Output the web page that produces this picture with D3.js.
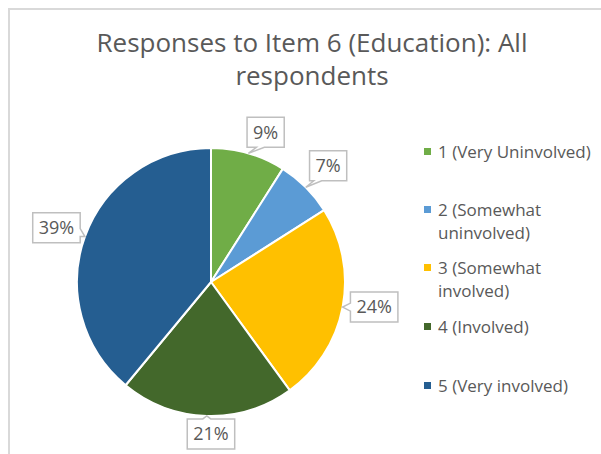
<!DOCTYPE html>
<html><head><meta charset="utf-8">
<script src="https://cdn.jsdelivr.net/npm/d3@7"></script>
<style>body{margin:0;background:#fff}svg{display:block}</style>
</head><body>
<svg id="c" width="601" height="454"></svg>
<script>
const categories = ["1 (Very Uninvolved)", "2 (Somewhat uninvolved)", "3 (Somewhat involved)", "4 (Involved)", "5 (Very involved)"];
const legendLines = [["1 (Very Uninvolved)"], ["2 (Somewhat", "uninvolved)"], ["3 (Somewhat", "involved)"], ["4 (Involved)"], ["5 (Very involved)"]];
const values = [9, 7, 24, 21, 39];
const colors = ["#70AD47", "#5B9BD5", "#FFC000", "#43682B", "#255E91"];
const titleLines = ["Responses to Item 6 (Education): All", "respondents"];

const svg = d3.select("#c");
const font = "'Open Sans', sans-serif";
const textColor = "#595959";

// chart border (cropped on right/bottom)
svg.append("path").attr("d", "M9,460 L9,9 L610,9").attr("fill", "none").attr("stroke", "#d9d9d9").attr("stroke-width", 2);

// title
svg.append("g").selectAll("text").data(titleLines).join("text")
  .attr("x", 312).attr("y", (d, i) => 52 + i * 33)
  .attr("text-anchor", "middle").attr("font-family", font).attr("font-size", 26)
  .attr("fill", textColor).text(d => d);

const cx = 211, cy = 282, R = 134;
const total = d3.sum(values);
const pie = d3.pie().sort(null).value(d => d)(values);
const arc = d3.arc().innerRadius(0).outerRadius(R);
const g = svg.append("g").attr("transform", `translate(${cx},${cy})`);
g.selectAll("path").data(pie).join("path")
  .attr("d", arc).attr("fill", (d, i) => colors[i])
  .attr("stroke", "#fff").attr("stroke-width", 2).attr("stroke-linejoin", "round");

// data labels with callouts
const labelR = 160;
const labelNudge = [[10, 4], [4, -3], [6, -5], [5, -8], [-4, 0]];
const pct = d3.format(".0%");
pie.forEach((d, i) => {
  const a = (d.startAngle + d.endAngle) / 2;
  const tip = [R * Math.sin(a), -R * Math.cos(a)];
  const c = [labelR * Math.sin(a) + labelNudge[i][0], -labelR * Math.cos(a) + labelNudge[i][1]];
  const txt = pct(values[i] / total);
  const t = g.append("text").attr("x", c[0]).attr("y", c[1] + 6.5)
    .attr("text-anchor", "middle").attr("font-family", font).attr("font-size", 18)
    .attr("fill", textColor).text(txt);
  const w = t.node().getComputedTextLength() + 12, h = 30;
  const x0 = c[0] - w / 2, x1 = c[0] + w / 2, y0 = c[1] - h / 2, y1 = c[1] + h / 2;
  let side;
  if (tip[1] > y1) side = "bottom"; else if (tip[1] < y0) side = "top";
  else if (tip[0] < x0) side = "left"; else side = "right";
  const nw = 8;
  let p = [];
  if (side === "top") {
    const bx = Math.max(x0 + 4, Math.min(x1 - 4 - nw, tip[0] - nw / 2));
    p = [[x0, y0], [bx, y0], tip, [bx + nw, y0], [x1, y0], [x1, y1], [x0, y1]];
  } else if (side === "bottom") {
    const bx = Math.max(x0 + 4, Math.min(x1 - 4 - nw, tip[0] + nw));
    p = [[x0, y0], [x1, y0], [x1, y1], [bx + nw, y1], tip, [bx, y1], [x0, y1]];
  } else if (side === "left") {
    const by = Math.max(y0 + 4, Math.min(y1 - 4 - nw, tip[1] - nw / 2));
    p = [[x0, y0], [x1, y0], [x1, y1], [x0, y1], [x0, by + nw], tip, [x0, by]];
  } else {
    const by = Math.max(y0 + 4, Math.min(y1 - 4 - nw, tip[1] - nw));
    p = [[x0, y0], [x1, y0], [x1, by], tip, [x1, by + nw], [x1, y1], [x0, y1]];
  }
  g.insert("path", "text").attr("d", "M" + p.map(q => q.join(",")).join("L") + "Z")
    .attr("fill", "#fff").attr("stroke", "#bfbfbf").attr("stroke-width", 1.5);
});

// legend
const legendY = [152, 210, 268, 327, 386];
const lg = svg.append("g");
legendLines.forEach((lines, i) => {
  lg.append("rect").attr("x", 424).attr("y", legendY[i] - 4).attr("width", 7).attr("height", 7).attr("fill", colors[i]);
  lines.forEach((s, j) => {
    lg.append("text").attr("x", 438).attr("y", legendY[i] + 6 + j * 23)
      .attr("font-family", font).attr("font-size", 17).attr("fill", textColor).text(s);
  });
});
</script>
</body></html>
